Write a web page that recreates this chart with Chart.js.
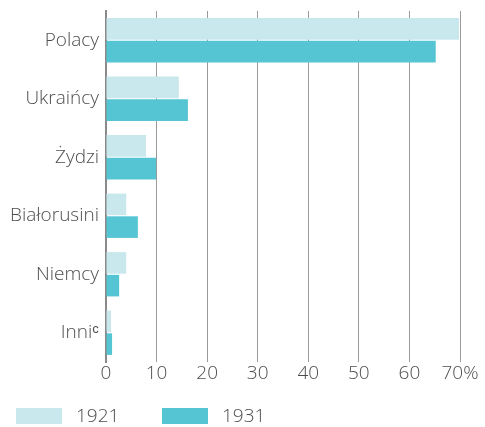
<!DOCTYPE html>
<html>
<head>
<meta charset="utf-8">
<script src="https://cdn.jsdelivr.net/npm/chart.js@4/dist/chart.umd.min.js"></script>
<style>
  html, body { margin: 0; padding: 0; background: #fff; }
  #wrap { width: 485px; height: 427px; position: relative; }
</style>
</head>
<body>
<div id="wrap"><canvas id="c" width="485" height="427"></canvas></div>
<script>
const categories = ['Polacy', 'Ukraińcy', 'Żydzi', 'Białorusini', 'Niemcy', 'Inni\u1D9C'];
const values1921 = [69.8, 14.4, 7.9, 4.0, 4.0, 1.0];
const values1931 = [65.2, 16.2, 9.9, 6.3, 2.6, 1.2];
const seriesLabels = ['1921', '1931'];
const xTicks = [0, 10, 20, 30, 40, 50, 60, 70];

const FONT = "'Open Sans', 'DejaVu Sans', sans-serif";
const TEXT = '#4d4d4d';

const legendPlugin = {
  id: 'customLegend',
  afterDraw(chart) {
    const ctx = chart.ctx;
    const starts = [16, 162];
    ctx.save();
    chart.data.datasets.forEach((ds, i) => {
      const x = starts[i];
      ctx.fillStyle = ds.backgroundColor;
      ctx.fillRect(x, 408, 46, 16);
      ctx.fillStyle = TEXT;
      ctx.font = '300 19px ' + FONT;
      ctx.textBaseline = 'middle';
      ctx.textAlign = 'left';
      ctx.fillText(ds.label, x + 60, 417);
    });
    ctx.restore();
  }
};

new Chart(document.getElementById('c'), {
  type: 'bar',
  data: {
    labels: categories,
    datasets: [
      { label: seriesLabels[0], data: values1921, backgroundColor: '#c9e8ed' },
      { label: seriesLabels[1], data: values1931, backgroundColor: '#55c5d3' }
    ]
  },
  options: {
    indexAxis: 'y',
    responsive: false,
    animation: false,
    devicePixelRatio: 1,
    categoryPercentage: 0.777,
    barPercentage: 0.95,
    layout: { padding: { top: 11, right: 25, bottom: 37, left: 0 } },
    plugins: { legend: { display: false }, tooltip: { enabled: false } },
    scales: {
      x: {
        min: 0, max: 70,
        afterBuildTicks: s => { s.ticks = xTicks.map(v => ({ value: v })); },
        afterFit: s => { s.height = 28; },
        ticks: {
          color: TEXT,
          font: { family: FONT, size: 19, weight: '300' },
          padding: 0,
          callback: v => v === 70 ? '70%' : String(v)
        },
        grid: { color: '#9a9a9a', lineWidth: 1, drawTicks: false },
        border: { display: false }
      },
      y: {
        afterFit: s => { s.width = 106; s.paddingTop = 0; s.paddingBottom = 0; },
        ticks: {
          color: TEXT,
          font: { family: FONT, size: 19, weight: '300' },
          padding: 7
        },
        grid: { display: false, drawTicks: false },
        border: { display: true, color: '#8a8a8a', width: 2 }
      }
    }
  },
  plugins: [legendPlugin]
});
</script>
</body>
</html>
